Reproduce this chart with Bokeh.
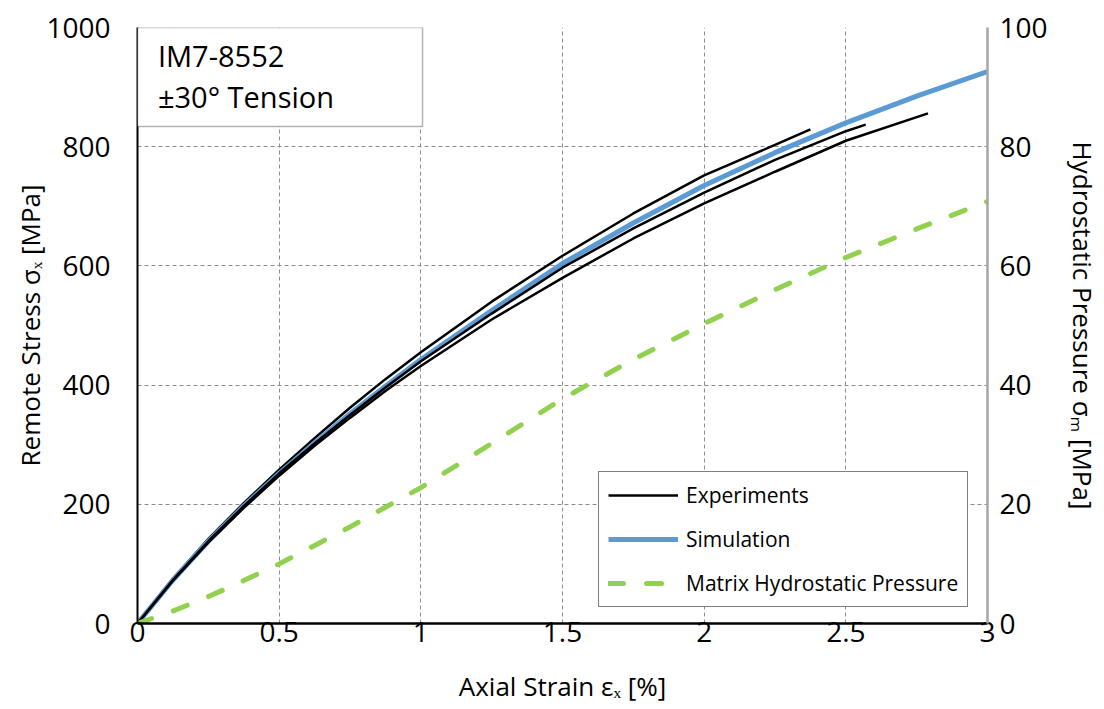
from bokeh.plotting import figure
from bokeh.models import (Range1d, LinearAxis, FixedTicker, BoxAnnotation,
                          Label, Legend, LegendItem)
from bokeh.embed import file_html
from bokeh.resources import INLINE

FONT = "Open Sans"

# ---- data ----
x_ticks = [0, 0.5, 1, 1.5, 2, 2.5, 3]
x_tick_labels = ["0", "0.5", "1", "1.5", "2", "2.5", "3"]
y_ticks = [0, 200, 400, 600, 800, 1000]
y2_ticks = [0, 20, 40, 60, 80, 100]

exp_a_strain = [0, 0.125, 0.25, 0.375, 0.5, 0.625, 0.75, 0.875, 1.0, 1.25, 1.5, 1.75, 2.0, 2.25, 2.375]
exp_a_stress = [0, 75, 142, 202, 258, 311, 362, 410, 455, 540, 617, 688, 752, 803, 829]

exp_b_strain = [0, 0.125, 0.25, 0.375, 0.5, 0.625, 0.75, 0.875, 1.0, 1.25, 1.5, 1.75, 2.0, 2.25, 2.5, 2.57]
exp_b_stress = [0, 73, 138, 197, 252, 302, 350, 396, 440, 520, 597, 663, 723, 778, 826, 837]

exp_c_strain = [0, 0.125, 0.25, 0.375, 0.5, 0.625, 0.75, 0.875, 1.0, 1.25, 1.5, 1.75, 2.0, 2.25, 2.5, 2.79]
exp_c_stress = [0, 72, 136, 194, 248, 298, 345, 390, 432, 510, 580, 646, 705, 758, 810, 856]

sim_strain = [0, 0.125, 0.25, 0.375, 0.5, 0.625, 0.75, 0.875, 1.0, 1.25, 1.5, 1.75, 2.0, 2.25, 2.5, 2.75, 3.0]
sim_stress = [0, 73, 138, 197, 252, 303, 352, 398, 443, 525, 604, 672, 735, 790, 840, 885, 926]

hyd_strain = [0, 0.125, 0.25, 0.375, 0.5, 0.75, 1.0, 1.25, 1.5, 1.75, 2.0, 2.25, 2.5, 2.75, 3.0]
hyd_pressure = [0, 2.1, 4.5, 7.2, 10.0, 16.2, 22.8, 30.2, 37.7, 44.3, 50.3, 56.0, 61.4, 66.2, 70.8]

# ---- figure ----
p = figure(width=1104, height=707,
           x_range=Range1d(0, 3), y_range=Range1d(0, 1000),
           output_backend="svg", toolbar_location=None,
           min_border_left=137, min_border_right=117,
           min_border_top=27, min_border_bottom=84)
p.outline_line_color = None
p.background_fill_color = "white"

p.extra_y_ranges = {"p": Range1d(0, 100)}

# axes
xa = p.xaxis[0]
xa.ticker = FixedTicker(ticks=x_ticks)
xa.major_label_overrides = {t: l for t, l in zip(x_ticks, x_tick_labels)}
xa.axis_label = "Axial Strain εₓ [%]"
xa.axis_line_color = "black"
xa.axis_line_width = 2.5
xa.major_label_standoff = -2
xa.axis_label_standoff = 23

ya = p.yaxis[0]
ya.ticker = FixedTicker(ticks=y_ticks)
ya.axis_label = "Remote Stress σₓ [MPa]"
ya.axis_line_color = "black"
ya.axis_line_width = 2
ya.major_label_standoff = 27
ya.axis_label_standoff = -5

ra = LinearAxis(y_range_name="p", ticker=FixedTicker(ticks=y2_ticks))
ra.axis_label = "Hydrostatic Pressure σₘ [MPa]"
ra.axis_line_color = "#a6a6a6"
ra.axis_line_width = 2.5
ra.major_label_standoff = 12
ra.axis_label_standoff = 14
p.add_layout(ra, "right")

for ax in (xa, ya, ra):
    ax.major_tick_line_color = None
    ax.minor_tick_line_color = None
    ax.major_tick_out = 0
    ax.major_tick_in = 0
    ax.major_label_text_font = FONT
    ax.major_label_text_font_size = "28px"
    ax.major_label_text_color = "black"
    ax.axis_label_text_font = FONT
    ax.axis_label_text_font_size = "26px"
    ax.axis_label_text_font_style = "normal"
    ax.axis_label_text_color = "black"

# grids
p.xgrid.ticker = FixedTicker(ticks=x_ticks)
p.ygrid.ticker = FixedTicker(ticks=y_ticks)
for g in (p.xgrid, p.ygrid):
    g.grid_line_color = "#8c8c8c"
    g.grid_line_dash = "4 3"
    g.grid_line_width = 1

# lines
r_a = p.line(exp_a_strain, exp_a_stress, line_color="black", line_width=2.5)
r_sim = p.line(sim_strain, sim_stress, line_color="#5B9BD5", line_width=5)
r_b = p.line(exp_b_strain, exp_b_stress, line_color="black", line_width=2.5)
r_c = p.line(exp_c_strain, exp_c_stress, line_color="black", line_width=2.5)
r_h = p.line(hyd_strain, hyd_pressure, y_range_name="p", line_color="#92D050",
             line_width=5, line_dash="15 23", line_cap="round")

# title box
box = BoxAnnotation(left=0, right=1.006, bottom=834, top=1000,
                    fill_color="white", fill_alpha=1.0,
                    line_color="black", line_width=1.5)
p.add_layout(box)
p.add_layout(Label(x=0.072, y=953, text="IM7-8552", text_font=FONT,
                   text_font_size="29px", text_baseline="middle", text_color="black"))
p.add_layout(Label(x=0.072, y=885, text="±30° Tension", text_font=FONT,
                   text_font_size="29px", text_baseline="middle", text_color="black"))

# legend
legend = Legend(items=[LegendItem(label="Experiments", renderers=[r_a]),
                       LegendItem(label="Simulation", renderers=[r_sim]),
                       LegendItem(label="Matrix Hydrostatic Pressure", renderers=[r_h])],
                location=(461, 16))
legend.border_line_color = "black"
legend.border_line_width = 1
legend.background_fill_color = "white"
legend.background_fill_alpha = 1.0
legend.label_text_font = FONT
legend.label_text_font_size = "21px"
legend.label_text_color = "black"
legend.glyph_width = 70
legend.glyph_height = 26
legend.label_height = 26
legend.spacing = 16
legend.padding = 9
legend.margin = 0
legend.label_standoff = 8
p.add_layout(legend)

open("out.html", "w").write(file_html(p, INLINE))
